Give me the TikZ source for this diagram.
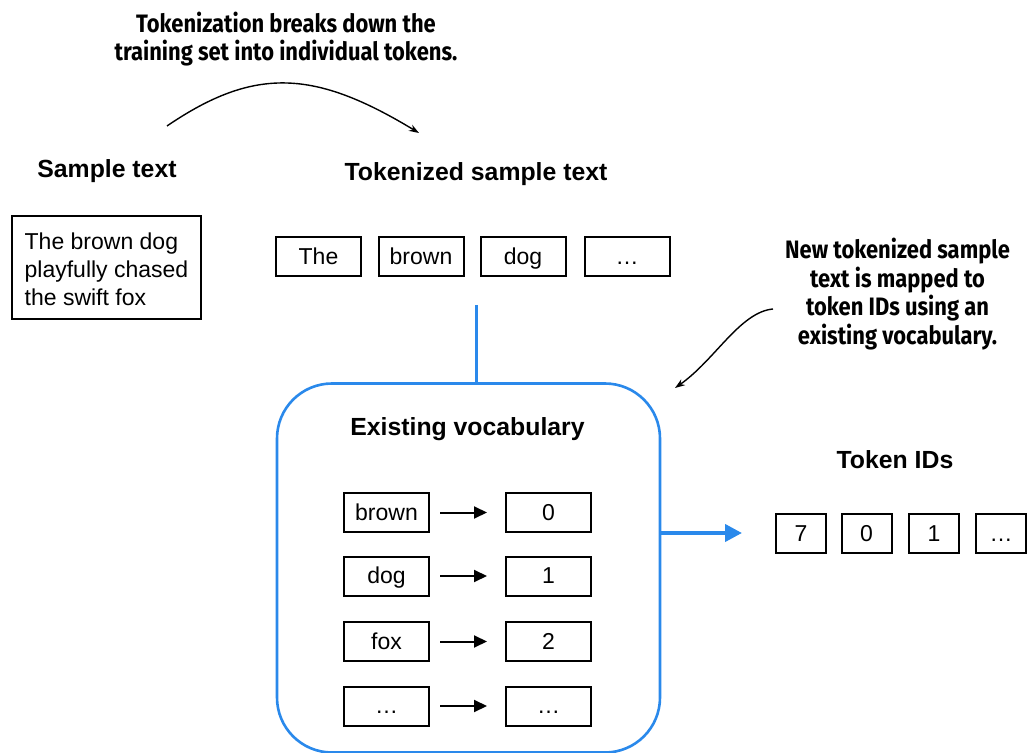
\documentclass[tikz,border=0pt]{standalone}
\usepackage{fontspec}
\setmainfont{Liberation Sans}
\newfontfamily\notefont[FakeStretch=0.87]{Fira Sans}
\usetikzlibrary{arrows.meta}
\definecolor{vocabblue}{RGB}{42,137,235}

\begin{document}
\begin{tikzpicture}[x=0.5pt,y=-0.5pt,
  tok/.style={draw,line width=1pt,minimum width=42.5pt,minimum height=19.5pt,inner sep=0pt,
    text height=8.5pt,text depth=1pt,font=\fontsize{11.5}{14}\selectfont},
  idtok/.style={tok,minimum width=25pt},
  head/.style={font=\fontsize{12.4}{15}\selectfont\bfseries},
  note/.style={align=center,font=\notefont\bfseries\fontsize{12.6}{14.4}\selectfont},
  maparrow/.style={line width=1pt,-{Triangle[length=6.5pt,width=6pt]}},
  curvearrow/.style={line width=0.7pt,-{Stealth[length=5pt,width=3.5pt]}}]
\useasboundingbox (0,0) rectangle (1028,753);
%
% sample text on the left
\node[head] (sampletitle) at (107,171) {Sample text};
\node[draw,line width=1pt,align=left,inner xsep=6.5pt,minimum height=51.5pt,
  font=\fontsize{11.5}{14}\selectfont] (sample) at (106.5,267.5)
  {\rule{0pt}{10pt}The brown dog\\playfully chased\\the swift fox};
%
% tokenized text
\node[head] (toktitle) at (476,174) {Tokenized sample text};
\node[tok] (t1) at (318.5,257) {The};
\node[tok] (t2) at (421,257) {brown};
\node[tok] (t3) at (523,257) {dog};
\node[tok] (t4) at (627,257) {\dots};
%
% vocabulary box
\node[draw=vocabblue,line width=1.3pt,rounded corners=27.5pt,minimum width=191.5pt,
  minimum height=184.5pt] (vocab) at (468.5,568) {};
\node[head] (vocabtitle) at (467.5,429) {Existing vocabulary};
\node[tok] (w1) at (386.5,512.5) {brown};
\node[tok] (w2) at (386.5,576) {dog};
\node[tok] (w3) at (386.5,641.5) {fox};
\node[tok] (w4) at (386.5,706) {\dots};
\node[tok] (n1) at (548.5,512.5) {0};
\node[tok] (n2) at (548.5,576) {1};
\node[tok] (n3) at (548.5,641.5) {2};
\node[tok] (n4) at (548.5,706) {\dots};
\draw[maparrow] ([xshift=5pt]w1.east) -- ([xshift=-9pt]n1.west);
\draw[maparrow] ([xshift=5pt]w2.east) -- ([xshift=-9pt]n2.west);
\draw[maparrow] ([xshift=5pt]w3.east) -- ([xshift=-9pt]n3.west);
\draw[maparrow] ([xshift=5pt]w4.east) -- ([xshift=-9pt]n4.west);
%
% token IDs
\node[head] (idtitle) at (895,460) {Token IDs};
\node[idtok] (i1) at (801,533.5) {7};
\node[idtok] (i2) at (866.5,533.5) {0};
\node[idtok] (i3) at (934,533.5) {1};
\node[idtok] (i4) at (1001,533.5) {\dots};
%
% blue connectors
\coordinate (tokbot) at (476.5,305);
\coordinate (idin) at (742,533);
\draw[vocabblue,line width=1.3pt] (tokbot) -- (tokbot |- vocab.north);
\draw[vocabblue,line width=2pt,-{Triangle[length=8.5pt,width=8.5pt]}] (vocab.east |- idin) -- (idin);
%
% notes
\node[note] (topnote) at (286,39) {Tokenization breaks down the\\training set into individual tokens.};
\node[note] (rightnote) at (897.5,294) {New tokenized sample\\text is mapped to\\token IDs using an\\existing vocabulary.};
\coordinate (c1s) at (167,126);
\coordinate (c1e) at (419,133);
\draw[curvearrow] (c1s) .. controls (255,66) and (315,70) .. (c1e);
\coordinate (c2s) at (773,309);
\coordinate (c2e) at (675,388);
\draw[curvearrow] (c2s) .. controls (740,312) and (715,360) .. (c2e);
%
\end{tikzpicture}
\end{document}
